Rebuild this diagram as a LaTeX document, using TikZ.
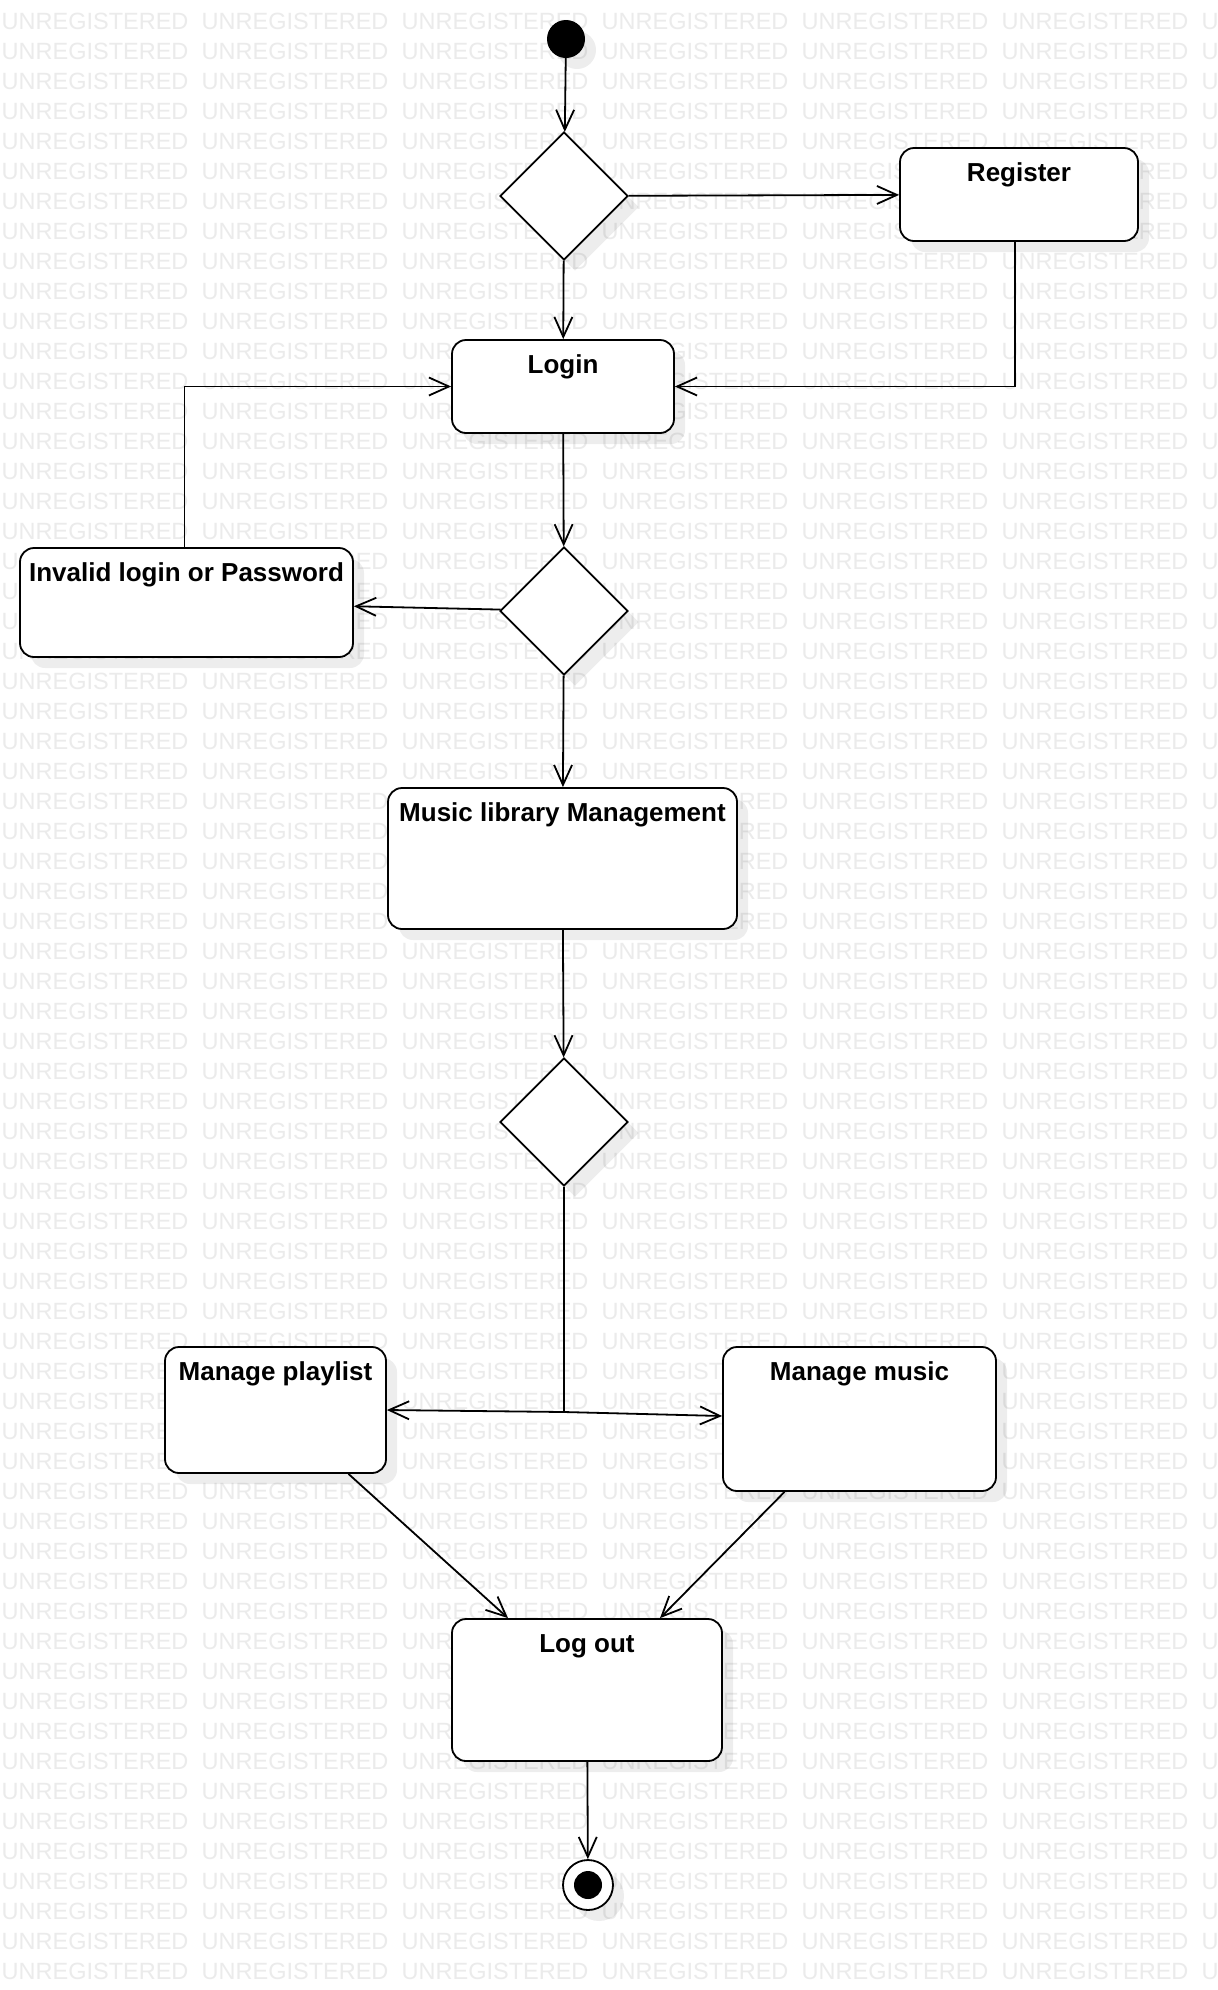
\documentclass[tikz,border=0pt]{standalone}
\usepackage{fontspec}
\setmainfont{Liberation Sans}
\usetikzlibrary{shapes.geometric, arrows.meta, shadows, positioning}

\begin{document}
\begin{tikzpicture}[
        x=1pt, y=-1pt,
        watermark/.style={anchor=west, inner sep=0pt, text=black!8, font=\fontsize{23.5pt}{28pt}\selectfont},
        softshadow/.style={drop shadow={shadow xshift=11pt, shadow yshift=-11pt, opacity=0.07, fill=black}},
        activity/.style={rectangle, draw, fill=white, line width=1.8pt, rounded corners=14pt, softshadow},
        boxtitle/.style={anchor=center, yshift=-28pt, inner sep=0pt, font=\bfseries\fontsize{26pt}{30pt}\selectfont},
        decision/.style={diamond, draw, fill=white, line width=1.8pt, minimum size=128pt, inner sep=0pt, aspect=1, softshadow},
        startstate/.style={circle, fill=black, minimum size=38pt, inner sep=0pt, softshadow},
        endstate/.style={circle, draw, fill=white, line width=1.8pt, minimum size=50pt, inner sep=0pt, softshadow,
            path picture={\fill[black] (path picture bounding box.center) circle (14pt);}},
        arrow/.style={-{Straight Barb[length=20pt, width=18pt]}, line width=1.8pt},
        plain/.style={line width=1.8pt}
    ]
    % background
    \useasboundingbox (0,0) rectangle (1218,1990);
    \fill[white] (0,0) rectangle (1218,1990);
    \foreach \row in {0,...,65}
        \foreach \col in {0,...,6}
            \node[watermark] at (200*\col+1.5, 21.5+30*\row) {UNREGISTERED};

    % states
    \node[startstate] (start) at (566,39) {};
    \node[decision] (d1) at (564,196) {};
    \node[activity, minimum width=238pt, minimum height=93pt, label={[boxtitle]north:Register}] (register) at (1019,194.5) {};
    \node[activity, minimum width=222pt, minimum height=93pt, label={[boxtitle]north:Login}] (login) at (563,386.5) {};
    \node[decision] (d2) at (564,611) {};
    \node[activity, minimum width=333pt, minimum height=109pt, label={[boxtitle]north:Invalid login or Password}] (invalid) at (186.5,602.5) {};
    \node[activity, minimum width=349pt, minimum height=141pt, label={[boxtitle]north:Music library Management}] (library) at (562.5,858.5) {};
    \node[decision] (d3) at (564,1122) {};
    \coordinate (split) at (564,1412);
    \node[activity, minimum width=221pt, minimum height=126pt, label={[boxtitle]north:Manage playlist}] (playlist) at (275.5,1410) {};
    \node[activity, minimum width=273pt, minimum height=144pt, label={[boxtitle]north:Manage music}] (music) at (859.5,1419) {};
    \node[activity, minimum width=270pt, minimum height=142pt, label={[boxtitle]north:Log out}] (logout) at (587,1690) {};
    \node[endstate] (end) at (588,1885) {};

    % transitions
    \draw[arrow] (start) -- (d1);
    \draw[arrow] (d1) -- (register);
    \draw[arrow] (d1) -- (login);
    \draw[arrow] ([xshift=-4pt]register.south) |- (login.east);
    \draw[arrow] (login) -- (d2);
    \draw[arrow] (d2) -- (invalid);
    \draw[arrow] ([xshift=-2pt]invalid.north) |- (login.west);
    \draw[arrow] (d2) -- (library);
    \draw[arrow] (library) -- (d3);
    \draw[plain] (d3) -- (split);
    \draw[arrow] (split) -- (playlist.east);
    \draw[arrow] (split) -- ([yshift=3pt]music.west);
    \draw[arrow] ([xshift=73pt]playlist.south) -- ([xshift=-79pt]logout.north);
    \draw[arrow] ([xshift=-75pt]music.south) -- ([xshift=73pt]logout.north);
    \draw[arrow] (logout) -- (end);
\end{tikzpicture}
\end{document}
